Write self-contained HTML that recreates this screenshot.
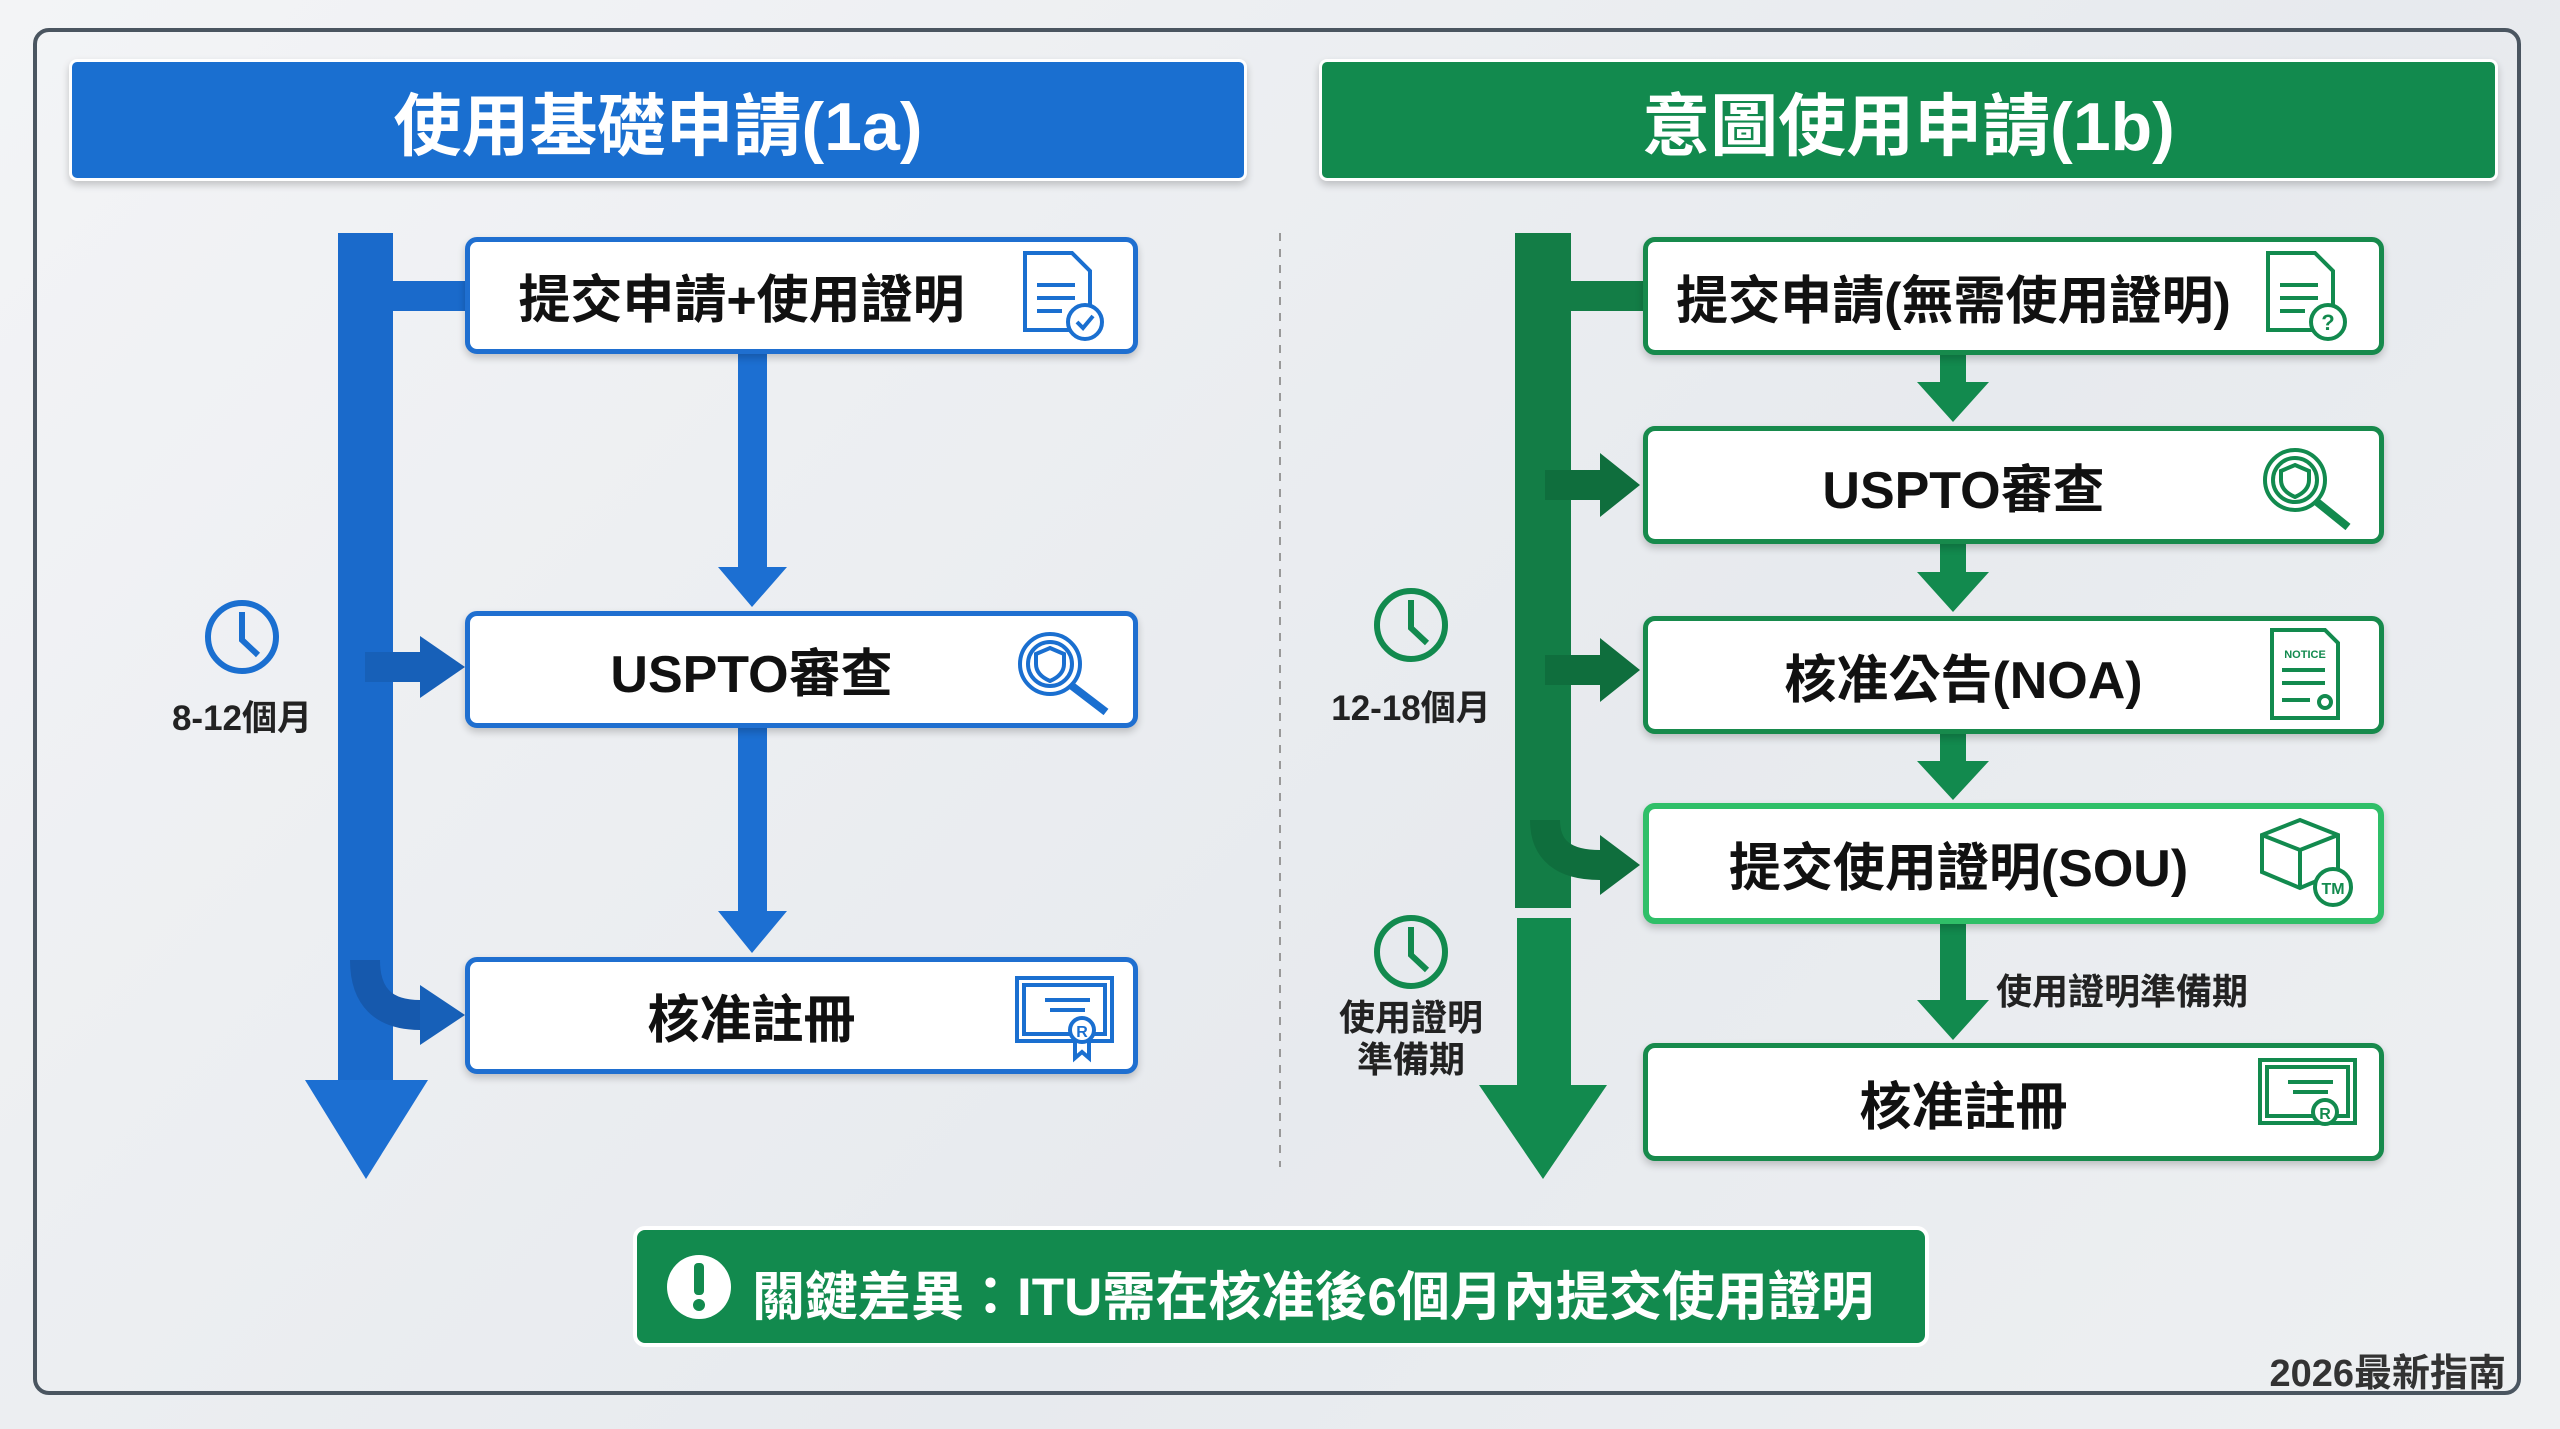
<!DOCTYPE html>
<html><head><meta charset="utf-8"><style>
body{margin:0;width:2560px;height:1429px;overflow:hidden;background:linear-gradient(135deg,#f3f4f6,#e7eaee 60%,#eef0f2);font-family:"Liberation Sans","Noto Sans CJK TC",sans-serif;position:relative}
.a{position:absolute}
.frame{left:33px;top:28px;width:2488px;height:1367px;border:4px solid #4a5560;border-radius:16px;box-sizing:border-box}
.hdr{top:59px;height:122px;border-radius:8px;color:#fff;font-weight:bold;font-size:68px;display:flex;align-items:center;justify-content:center;box-shadow:0 4px 8px rgba(0,0,0,.2);border:3px solid #fff;box-sizing:border-box}
.box{background:#fff;border-radius:12px;box-sizing:border-box;display:flex;align-items:center;justify-content:center;font-weight:bold;font-size:52px;color:#111;box-shadow:0 4px 8px rgba(0,0,0,.2)}
.bl{border:5px solid #1f6fd0;left:465px;width:673px;height:117px}
.gr{border:5px solid #178a4c;left:1643px;width:741px;height:118px}
.lbl{font-weight:bold;color:#222;text-align:center}
</style></head><body>
<div class="a frame"></div>
<div class="a hdr" style="left:69px;width:1178px;background:#1a6fd0">使用基礎申請(1a)</div>
<div class="a hdr" style="left:1319px;width:1179px;background:#128a4e">意圖使用申請(1b)</div>

<svg class="a" style="left:0;top:0" width="2560" height="1429">
<line x1="1280" y1="233" x2="1280" y2="1167" stroke="#999" stroke-width="2" stroke-dasharray="8,8"/>
<rect x="338" y="233" width="55" height="850" fill="#1a6acb"/>
<polygon points="305,1080 428,1080 366,1179" fill="#1c6fd2"/>
<rect x="393" y="281" width="75" height="30" fill="#1a6acb"/>
<rect x="365" y="652" width="60" height="30" fill="#1760b8"/>
<polygon points="420,636 465,667 420,698" fill="#1760b8"/>
<path d="M365 960 Q365 1015 420 1015" fill="none" stroke="#1659ad" stroke-width="30"/>
<polygon points="420,985 465,1015 420,1045" fill="#1760b8"/>
<rect x="738" y="354" width="29" height="215" fill="#1c6fd2"/>
<polygon points="718,567 787,567 752,607" fill="#1c6fd2"/>
<rect x="738" y="728" width="29" height="185" fill="#1c6fd2"/>
<polygon points="718,911 787,911 752,953" fill="#1c6fd2"/>
<circle cx="242" cy="637" r="34" fill="none" stroke="#1a6fd0" stroke-width="6"/>
<path d="M242 612 V640 L258 655" fill="none" stroke="#1a6fd0" stroke-width="6"/>
<rect x="1515" y="233" width="56" height="675" fill="#137d46"/>
<rect x="1517" y="918" width="54" height="170" fill="#128a4e"/>
<polygon points="1479,1085 1607,1085 1543,1179" fill="#128a4e"/>
<rect x="1571" y="281" width="75" height="30" fill="#137d46"/>
<rect x="1545" y="470" width="60" height="30" fill="#0f6e3d"/>
<polygon points="1600,453 1640,485 1600,517" fill="#0f6e3d"/>
<rect x="1545" y="655" width="60" height="30" fill="#0f6e3d"/>
<polygon points="1600,638 1640,670 1600,702" fill="#0f6e3d"/>
<path d="M1545 820 Q1545 865 1600 865" fill="none" stroke="#0f6e3d" stroke-width="30"/>
<polygon points="1600,835 1640,865 1600,895" fill="#0f6e3d"/>
<g fill="#128a4e">
<rect x="1940" y="354" width="26" height="30"/><polygon points="1917,382 1989,382 1953,422"/>
<rect x="1940" y="544" width="26" height="30"/><polygon points="1917,572 1989,572 1953,612"/>
<rect x="1940" y="733" width="26" height="30"/><polygon points="1917,761 1989,761 1953,800"/>
<rect x="1940" y="924" width="26" height="80"/><polygon points="1917,1000 1989,1000 1953,1040"/>
</g>
<g fill="none" stroke="#128a4e" stroke-width="6">
<circle cx="1411" cy="625" r="34"/><path d="M1411 600 V628 L1427 643"/>
<circle cx="1411" cy="952" r="34"/><path d="M1411 927 V955 L1427 970"/>
</g>
<rect x="635" y="1228" width="1292" height="117" rx="10" fill="#128a4e" stroke="#fff" stroke-width="4"/>
<circle cx="699" cy="1287" r="32" fill="#fff"/>
<rect x="694" y="1263" width="10" height="32" rx="4" fill="#128a4e"/><circle cx="699" cy="1305" r="6" fill="#128a4e"/>
</svg>

<div class="a box bl" style="top:237px;padding-right:120px">提交申請+使用證明</div>
<div class="a box bl" style="top:611px;padding-right:100px">USPTO審查</div>
<div class="a box bl" style="top:957px;padding-right:100px">核准註冊</div>

<div class="a box gr" style="top:237px;padding-right:120px">提交申請(無需使用證明)</div>
<div class="a box gr" style="top:426px;padding-right:100px">USPTO審查</div>
<div class="a box gr" style="top:616px;padding-right:100px">核准公告(NOA)</div>
<div class="a box gr" style="top:803px;height:121px;border-color:#2fbf68;border-width:6px;padding-right:110px">提交使用證明(SOU)</div>
<div class="a box gr" style="top:1043px;padding-right:100px">核准註冊</div>

<svg class="a" style="left:0;top:0" width="2560" height="1429">
<g fill="none" stroke="#1a6fd0" stroke-width="4">
<path d="M1025 253 H1072 L1090 271 V330 H1025 Z"/><path d="M1037 285 H1075 M1037 298 H1075 M1037 311 H1062"/><circle cx="1085" cy="322" r="17" fill="#fff"/><path d="M1077 322 L1083 328 L1093 316"/>
<circle cx="1050" cy="664" r="30"/><circle cx="1050" cy="664" r="22"/><path d="M1072 686 L1106 712" stroke-width="8"/><path d="M1050 648 L1064 654 V664 Q1064 675 1050 681 Q1036 675 1036 664 V654 Z"/>
<rect x="1017" y="978" width="95" height="63"/><rect x="1024" y="985" width="81" height="49"/><path d="M1045 1000 H1090 M1050 1010 H1085"/><circle cx="1082" cy="1030" r="12" fill="#fff"/><path d="M1075 1040 L1075 1058 L1082 1052 L1089 1058 L1089 1040"/>
</g>
<g fill="none" stroke="#128a4e" stroke-width="4">
<path d="M2268 253 H2315 L2333 271 V330 H2268 Z"/><path d="M2280 285 H2318 M2280 298 H2318 M2280 311 H2305"/><circle cx="2328" cy="322" r="17" fill="#fff"/>
<circle cx="2295" cy="480" r="30"/><circle cx="2295" cy="480" r="22"/><path d="M2317 502 L2348 527" stroke-width="8"/><path d="M2295 465 L2309 471 V480 Q2309 491 2295 497 Q2281 491 2281 480 V471 Z"/>
<path d="M2272 630 H2325 L2338 643 V718 H2272 Z"/><path d="M2282 670 H2325 M2282 683 H2325 M2282 700 H2310"/><circle cx="2325" cy="702" r="6"/>
<path d="M2262 835 L2300 820 L2338 835 V872 L2300 888 L2262 872 Z M2262 835 L2300 850 L2338 835 M2300 850 V888"/><circle cx="2333" cy="887" r="18" fill="#fff"/>
<rect x="2260" y="1060" width="95" height="63"/><rect x="2267" y="1067" width="81" height="49"/><path d="M2288 1082 H2333 M2293 1092 H2328"/><circle cx="2325" cy="1112" r="12" fill="#fff"/>
</g>
<g font-family="Liberation Sans,sans-serif" font-weight="bold" fill="#128a4e">
<text x="2328" y="330" font-size="22" text-anchor="middle">?</text>
<text x="2305" y="658" font-size="11" text-anchor="middle">NOTICE</text>
<text x="2333" y="894" font-size="16" text-anchor="middle">TM</text>
<text x="2325" y="1119" font-size="16" text-anchor="middle">R</text>
</g>
<text x="1082" y="1037" font-family="Liberation Sans,sans-serif" font-weight="bold" font-size="16" fill="#1a6fd0" text-anchor="middle">R</text>
</svg>

<div class="a lbl" style="left:142px;width:200px;top:690px;font-size:35px">8-12個月</div>
<div class="a lbl" style="left:1301px;width:220px;top:680px;font-size:35px">12-18個月</div>
<div class="a lbl" style="left:1311px;width:200px;top:997px;font-size:36px;line-height:42px">使用證明<br>準備期</div>
<div class="a lbl" style="left:1996px;top:963px;font-size:36px;text-align:left">使用證明準備期</div>
<div class="a" style="left:752px;top:1255px;font-size:53px;font-weight:bold;color:#fff;white-space:nowrap">關鍵差異：ITU需在核准後6個月內提交使用證明</div>
<div class="a" style="left:2250px;top:1342px;width:256px;text-align:right;font-size:38px;font-weight:bold;color:#333">2026最新指南</div>
</body></html>
